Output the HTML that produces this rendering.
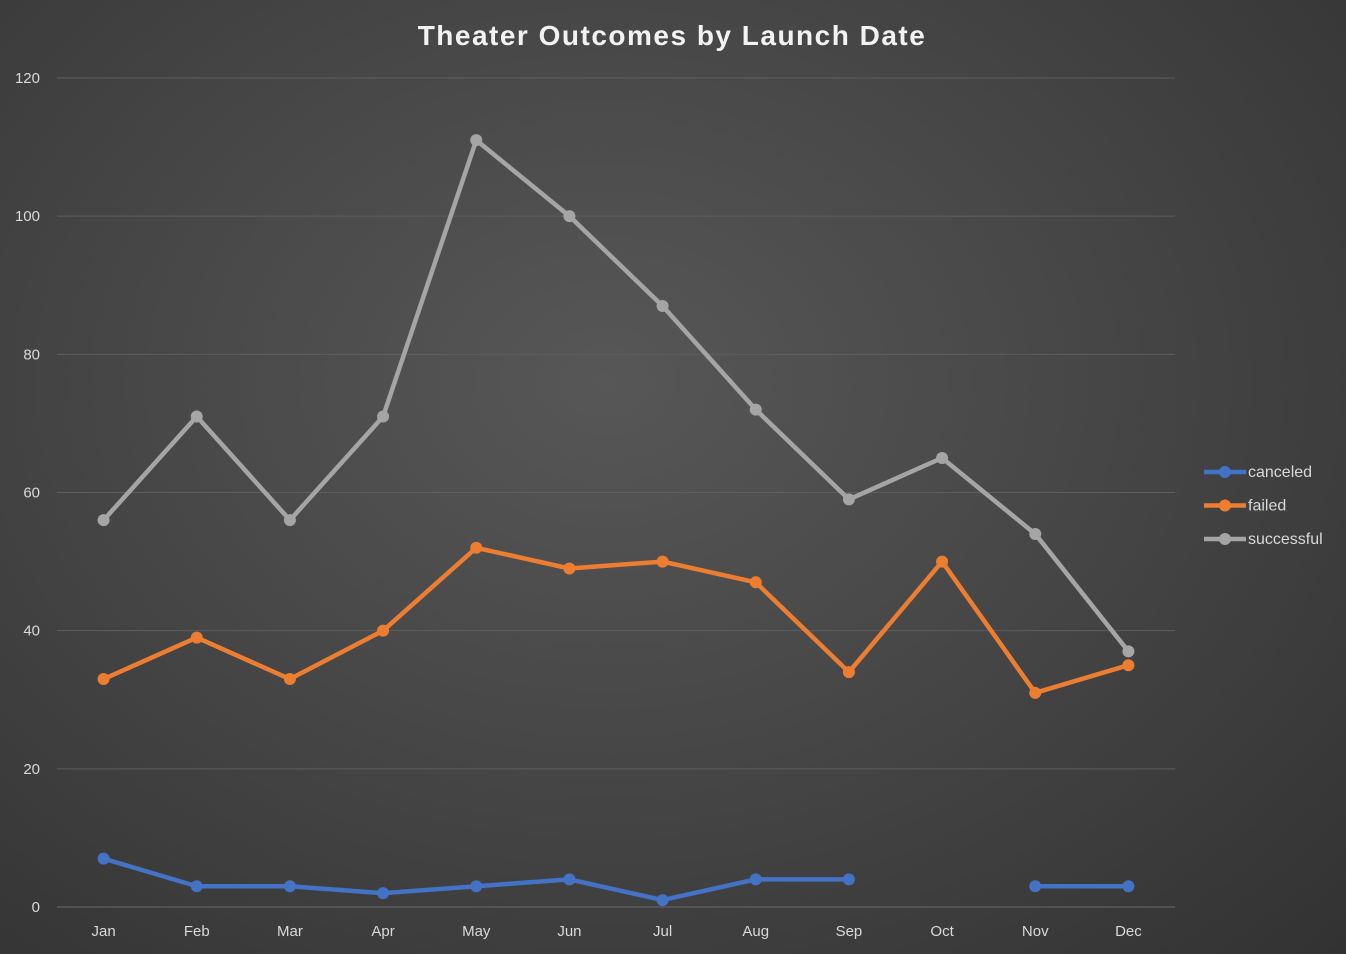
<!DOCTYPE html>
<html><head><meta charset="utf-8"><style>
html,body{margin:0;padding:0;width:1346px;height:954px;overflow:hidden;}
body{background:radial-gradient(ellipse at 45% 40%,#575757 0%,#474747 45%,#323232 100%);font-family:"Liberation Sans",sans-serif;}
</style></head><body>
<svg id="chart" width="1346" height="954" xmlns="http://www.w3.org/2000/svg">
<text x="672" y="45" text-anchor="middle" fill="#f2f2f2" font-size="28" font-weight="bold" letter-spacing="1.5" font-family="Liberation Sans, sans-serif">Theater Outcomes by Launch Date</text>
<g id="grid"></g>
<g id="series"></g>
<g id="legend"></g>
</svg>
<script>
const months=["Jan","Feb","Mar","Apr","May","Jun","Jul","Aug","Sep","Oct","Nov","Dec"];
const yTicks=[0,20,40,60,80,100,120];
const canceled=[7,3,3,2,3,4,1,4,4,null,3,3];
const failed=[33,39,33,40,52,49,50,47,34,50,31,35];
const successful=[56,71,56,71,111,100,87,72,59,65,54,37];
const seriesNames=["canceled","failed","successful"];
const seriesColors=["#4472c4","#ed7d31","#a5a5a5"];
const NS="http://www.w3.org/2000/svg";
const x0=57,x1=1175,y0=907,y1=78;
const step=(x1-x0)/months.length;
const X=i=>x0+step*(i+0.5);
const Y=v=>y0-(v/120)*(y0-y1);
function mk(t,a,p){const e=document.createElementNS(NS,t);for(const k in a)e.setAttribute(k,a[k]);p.appendChild(e);return e;}
const grid=document.getElementById('grid');
yTicks.forEach(v=>{
 const l=mk('line',{x1:x0,x2:x1,y1:Y(v),y2:Y(v),stroke:v===0?'#6a6a6a':'#5e5e5e','stroke-width':1},grid);
 
 
 const t=mk('text',{x:40,y:Y(v)+5,'text-anchor':'end',fill:'#d9d9d9','font-size':15},grid);
 t.textContent=v;
 
 
});
months.forEach((m,i)=>{
 const t=mk('text',{x:X(i),y:936,'text-anchor':'middle',fill:'#d9d9d9','font-size':15},grid);
 t.textContent=m;
 
 
});
const sg=document.getElementById('series');
[canceled,failed,successful].forEach((data,s)=>{
 const g=mk('g',{},sg);
 
 
 let d='',pen=false;
 data.forEach((v,i)=>{if(v===null){pen=false;return;}d+=(pen?'L':'M')+X(i)+' '+Y(v)+' ';pen=true;});
 const p=mk('path',{d:d,fill:'none',stroke:seriesColors[s],'stroke-width':4.5,'stroke-linejoin':'round','stroke-linecap':'round'},g);
 
 
 data.forEach((v,i)=>{if(v===null)return;
  const c=mk('circle',{cx:X(i),cy:Y(v),r:6,fill:seriesColors[s]},g);
  
  
 });
});
const lg=document.getElementById('legend');
seriesNames.forEach((n,s)=>{
 const y=472+s*33.5;
 const g=mk('g',{},lg);
 
 
 mk('line',{x1:1204,x2:1246,y1:y,y2:y,stroke:seriesColors[s],'stroke-width':4.5},g);
 mk('circle',{cx:1225,cy:y,r:6,fill:seriesColors[s]},g);
 const t=mk('text',{x:1248,y:y+5,fill:'#d9d9d9','font-size':16},g);
 t.textContent=n;
});
</script>
</body></html>
